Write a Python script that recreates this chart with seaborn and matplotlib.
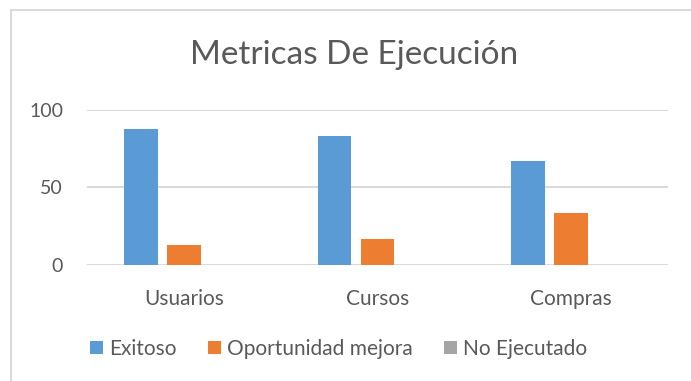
import matplotlib
matplotlib.use("Agg")
import matplotlib.pyplot as plt
from matplotlib.patches import Rectangle, Patch
import pandas as pd
import seaborn as sns

categories = ["Usuarios", "Cursos", "Compras"]
series_names = ["Exitoso", "Oportunidad mejora", "No Ejecutado"]
exitoso = [87.5, 83.3, 66.7]
oportunidad = [12.5, 16.7, 33.3]
no_ejecutado = [0, 0, 0]
y_ticks = [0, 50, 100]
title = "Metricas De Ejecución"

colors = ["#5B9BD5", "#ED7D31", "#A5A5A5"]
text_color = "#595959"
grid_color = "#D9D9D9"

df = pd.DataFrame({
    "categoria": categories * 3,
    "serie": [s for s in series_names for _ in categories],
    "valor": exitoso + oportunidad + no_ejecutado,
})

sns.set_style("white")
plt.rcParams["font.family"] = ["Lato", "DejaVu Sans"]

W, H = 691, 381
fig = plt.figure(figsize=(W / 100, H / 100), dpi=100)
ax = fig.add_axes([87 / W, 1 - 264.7 / H, (668 - 87) / W, (264.7 - 109.7) / H])

sns.barplot(data=df, x="categoria", y="valor", hue="serie",
            order=categories, hue_order=series_names, palette=colors,
            width=0.666, gap=0.21, saturation=1, legend=False, ax=ax,
            linewidth=0)

ax.set_ylim(0, 100)
ax.set_xlim(-0.5, len(categories) - 0.5)
ax.set_yticks(y_ticks)
ax.yaxis.grid(True, color=grid_color, linewidth=1.4)
ax.set_axisbelow(True)
for s in ax.spines.values():
    s.set_visible(False)
ax.set_xlabel("")
ax.set_ylabel("")
ax.tick_params(axis="both", length=0, labelcolor=text_color)
ax.tick_params(axis="y", pad=17.3, labelsize=14)
ax.tick_params(axis="x", pad=17.5, labelsize=15)

fig.text(354.5 / W, 1 - 64 / H, title, ha="center", va="baseline",
         fontsize=24, color=text_color)

handles = [Patch(facecolor=c, edgecolor="none") for c in colors]
fig.legend(handles, series_names, loc="center", bbox_to_anchor=(338.5 / W, 1 - 349 / H),
           ncol=3, frameon=False, fontsize=15, labelcolor=text_color,
           handlelength=0.63, handleheight=0.63, handletextpad=0.3,
           columnspacing=1.5, borderpad=0, borderaxespad=0)

fig.patches.append(Rectangle((11 / W, -0.1), 1.1, 1.1 - 10.5 / H,
                             transform=fig.transFigure, fill=False,
                             edgecolor=grid_color, linewidth=1.4))

fig.savefig("out.png", dpi=100)
